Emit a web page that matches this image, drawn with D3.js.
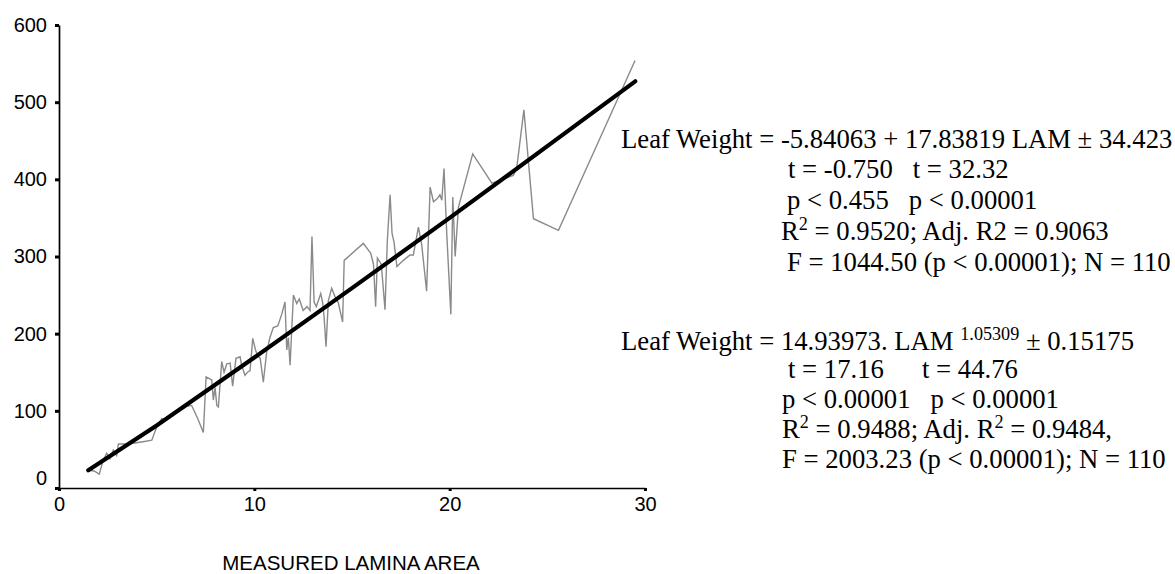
<!DOCTYPE html>
<html>
<head>
<meta charset="utf-8">
<script src="https://cdn.jsdelivr.net/npm/d3@7"></script>
<style>
  body { margin: 0; background: #fff; }
  .tick text { font-family: "Liberation Sans", Arial, sans-serif; }
  .eq { font-family: "Liberation Serif", "Times New Roman", serif; font-size: 26.7px; fill: #000; }
</style>
</head>
<body>
<script>
var width = 1175,
    height = 574

// measured lamina area vs leaf weight
var areaValues = [1.5, 1.8, 2.06, 2.25, 2.44, 2.61, 2.78, 2.95, 3.04, 3.4, 3.8, 4.3, 4.75, 5.0, 5.26, 5.5, 5.75, 6.03, 6.3, 6.54,
    6.79, 7.1, 7.39, 7.53, 7.82, 7.9, 7.99, 8.08, 8.16, 8.33, 8.45, 8.59, 8.76, 8.89, 9.06, 9.27, 9.35, 9.52, 9.65, 9.78,
    9.92, 10.05, 10.15, 10.3, 10.46, 10.63, 10.8, 10.97, 11.2, 11.4, 11.57, 11.66, 11.74, 11.83, 12.0, 12.17, 12.3, 12.5, 12.7, 12.85,
    12.95, 13.06, 13.17, 13.28, 13.4, 13.5, 13.57, 13.67, 13.79, 13.96, 14.13, 14.3, 14.52, 14.6, 15.58, 15.96, 16.1, 16.21, 16.3, 16.5,
    16.69, 16.81, 16.95, 17.05, 17.15, 17.3, 17.63, 17.97, 18.14, 18.4, 18.57, 18.82, 19.0, 19.17, 19.37, 19.5, 19.6, 19.71, 19.85, 20.06,
    20.16, 20.28, 20.45, 21.18, 22.16, 22.58, 23.26, 23.43, 23.8, 24.29, 25.57, 29.49];
var weightValues = [23, 22, 18, 35, 45, 38, 49, 42, 57, 57, 58, 60, 62, 79, 90, 88, 95, 100, 102, 106,
    107, 90, 72, 144, 140, 114, 130, 107, 105, 164, 150, 161, 162, 132, 168, 170, 159, 146, 150, 152,
    194, 180, 172, 168, 137, 176, 195, 208, 210, 225, 241, 179, 195, 159, 250, 239, 245, 230, 235, 230,
    326, 241, 235, 243, 252, 240, 222, 183, 243, 259, 248, 240, 215, 295, 317, 304, 290, 235, 298, 290,
    231, 321, 380, 330, 319, 287, 295, 302, 302, 338, 315, 255, 390, 371, 375, 380, 373, 414, 330, 225,
    377, 300, 364, 433, 395, 399, 405, 414, 490, 349, 334, 554];

// fitted (power) curve
var fitArea = [1.5, 5, 10, 15, 20, 25, 29.5];
var fitWeight = [23, 81, 169, 259, 350, 443, 527];

var xTicks = [0, 10, 20, 30];
var yTicks = [0, 100, 200, 300, 400, 500, 600];

var xLabel = "MEASURED LAMINA AREA";

var svg = d3.select("body").append("svg")
    .attr("width", width)
    .attr("height", height);

var x = d3.scaleLinear().domain([0, 30]).range([59, 645]);
var y = d3.scaleLinear().domain([0, 600]).range([488, 25]);

var data = areaValues.map(function(a, i) { return [a, weightValues[i]]; });
var fit = fitArea.map(function(a, i) { return [a, fitWeight[i]]; });

var line = d3.line()
    .x(function(d) { return x(d[0]); })
    .y(function(d) { return y(d[1]); });

svg.append("path")
    .datum(data)
    .attr("d", line)
    .attr("fill", "none")
    .attr("stroke", "#8a8a8a")
    .attr("stroke-width", 1.4);

svg.append("path")
    .datum(fit)
    .attr("d", line)
    .attr("fill", "none")
    .attr("stroke", "#000")
    .attr("stroke-width", 4.2)
    .attr("stroke-linecap", "round");

// axes
var xAxis = svg.append("g")
    .attr("transform", "translate(0,488)")
    .call(d3.axisBottom(x).tickValues(xTicks).tickSize(3).tickSizeOuter(0).tickPadding(6));

var yAxis = svg.append("g")
    .attr("transform", "translate(59,0)")
    .call(d3.axisLeft(y).tickValues(yTicks).tickSize(4).tickSizeOuter(0).tickPadding(8));

xAxis.select(".domain").attr("stroke-width", 1.7);
yAxis.select(".domain").attr("stroke-width", 1.7);
xAxis.selectAll(".tick line").attr("stroke-width", 3);
yAxis.selectAll(".tick line").attr("stroke-width", 3);
xAxis.selectAll(".tick text").attr("font-size", 20).attr("fill", "#000");
yAxis.selectAll(".tick text").attr("font-size", 20).attr("fill", "#000");
// zero label on y axis sits a little higher
yAxis.selectAll(".tick text").filter(function(d) { return d === 0; }).attr("dy", "-0.2em");

svg.append("text")
    .attr("x", 351)
    .attr("y", 570)
    .attr("text-anchor", "middle")
    .attr("font-family", "Liberation Sans, Arial, sans-serif")
    .attr("font-size", 20.5)
    .text(xLabel);

// regression statistics
function eqLine(xPos, yPos, parts) {
    var t = svg.append("text").attr("class", "eq").attr("x", xPos).attr("y", yPos)
        .attr("xml:space", "preserve").style("white-space", "pre");
    parts.forEach(function(p) {
        var s = t.append("tspan").text(p.t);
        if (p.sup) s.attr("font-size", "0.68em").attr("dy", "-0.55em");
        if (p.back) s.attr("font-size", "1em").attr("dy", "0.374em");
    });
}

eqLine(621, 148, [{t: "Leaf Weight = -5.84063 + 17.83819 LAM \u00b1 34.423"}]);
eqLine(788, 178, [{t: "t = -0.750   t = 32.32"}]);
eqLine(787, 209, [{t: "p < 0.455   p < 0.00001"}]);
eqLine(781, 240, [{t: "R"}, {t: "2", sup: true}, {t: " = 0.9520; Adj. R2 = 0.9063", back: true}]);
eqLine(787, 271, [{t: "F = 1044.50 (p < 0.00001); N = 110"}]);

eqLine(621, 350, [{t: "Leaf Weight = 14.93973. LAM "}, {t: "1.05309", sup: true}, {t: " \u00b1 0.15175", back: true}]);
eqLine(788, 378, [{t: "t = 17.16"}]);
eqLine(922, 378, [{t: "t = 44.76"}]);
eqLine(782, 408, [{t: "p < 0.00001   p < 0.00001"}]);
eqLine(782, 438, [{t: "R"}, {t: "2", sup: true}, {t: " = 0.9488; Adj. R", back: true}, {t: "2", sup: true}, {t: " = 0.9484,", back: true}]);
eqLine(782, 468, [{t: "F = 2003.23 (p < 0.00001); N = 110"}]);
</script>
</body>
</html>
